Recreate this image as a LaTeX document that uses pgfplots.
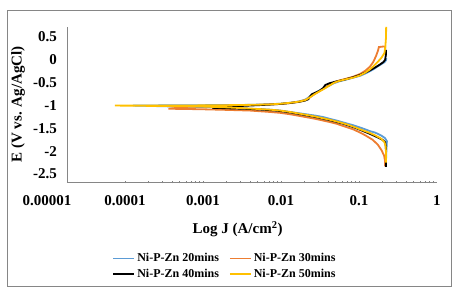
\documentclass[border=0pt]{standalone}
\usepackage{pgfplots}
\pgfplotsset{compat=1.18}
\usepackage{pgfplotstable}
\usepackage{fontspec}
\setmainfont{Liberation Serif}
\definecolor{cblue}{HTML}{5B9BD5}
\definecolor{corange}{HTML}{ED7D31}
\definecolor{cyellow}{HTML}{FFC000}
\definecolor{axgray}{HTML}{868686}
\pgfplotstableread{
J E
0.222 -2.20
0.225 -1.95
0.228 -1.78
0.215 -1.71
0.19 -1.65
0.16 -1.59
0.138 -1.56
0.12 -1.52
0.103 -1.48
0.084 -1.43
0.066 -1.38
0.052 -1.33
0.042 -1.29
0.0345 -1.25
0.0274 -1.22
0.019 -1.18
0.013 -1.14
0.0098 -1.11
0.0072 -1.09
0.004 -1.07
0.002 -1.05
0.0009 -1.03
0.0004 -1.02
0.000126 -1.00
0.0004 -0.995
0.0015 -0.99
0.004 -0.985
0.0072 -0.97
0.0098 -0.96
0.013 -0.94
0.017 -0.91
0.0205 -0.87
0.0235 -0.80
0.027 -0.73
0.031 -0.67
0.036 -0.62
0.042 -0.56
0.048 -0.51
0.056 -0.47
0.066 -0.44
0.084 -0.39
0.103 -0.35
0.12 -0.30
0.138 -0.25
0.155 -0.20
0.175 -0.14
0.195 -0.09
0.212 -0.05
0.222 -0.01
0.224 0.04
}\tblue
\pgfplotstableread{
J E
0.215 -2.33
0.215 -2.20
0.21 -2.10
0.195 -1.98
0.175 -1.86
0.15 -1.75
0.12 -1.65
0.103 -1.59
0.084 -1.52
0.066 -1.46
0.052 -1.40
0.042 -1.36
0.0274 -1.29
0.019 -1.24
0.013 -1.19
0.0098 -1.16
0.0072 -1.14
0.004 -1.11
0.002 -1.095
0.0009 -1.08
0.00036 -1.07
0.0006 -1.03
0.002 -1.00
0.005 -0.985
0.0098 -0.965
0.013 -0.945
0.017 -0.915
0.0205 -0.88
0.0235 -0.82
0.027 -0.75
0.031 -0.69
0.036 -0.62
0.042 -0.55
0.048 -0.49
0.056 -0.45
0.066 -0.42
0.084 -0.37
0.103 -0.31
0.12 -0.24
0.138 -0.15
0.152 -0.05
0.165 0.08
0.175 0.20
0.18 0.28
0.20 0.29
0.216 0.29
0.218 0.12
}\torange
\pgfplotstableread{
J E
0.222 -2.34
0.222 -2.10
0.221 -1.90
0.216 -1.80
0.20 -1.75
0.17 -1.69
0.138 -1.62
0.103 -1.53
0.084 -1.47
0.066 -1.41
0.052 -1.36
0.042 -1.32
0.0274 -1.25
0.019 -1.20
0.013 -1.15
0.0098 -1.12
0.0072 -1.10
0.004 -1.075
0.00134 -1.05
0.00134 -1.03
0.003 -1.01
0.0072 -0.98
0.0098 -0.965
0.013 -0.945
0.017 -0.92
0.0205 -0.89
0.0225 -0.86
0.0235 -0.80
0.025 -0.75
0.0275 -0.72
0.031 -0.68
0.0345 -0.62
0.037 -0.55
0.042 -0.51
0.052 -0.47
0.066 -0.43
0.084 -0.38
0.103 -0.33
0.12 -0.28
0.138 -0.23
0.16 -0.17
0.186 -0.10
0.205 -0.05
0.216 0.00
0.221 0.10
0.222 0.22
}\tblack
\pgfplotstableread{
J E
0.222 -2.25
0.222 -2.05
0.22 -1.90
0.212 -1.80
0.19 -1.72
0.16 -1.65
0.138 -1.60
0.103 -1.52
0.084 -1.46
0.066 -1.40
0.052 -1.35
0.042 -1.31
0.0274 -1.24
0.019 -1.19
0.013 -1.14
0.0098 -1.11
0.0072 -1.09
0.004 -1.065
0.002 -1.04
0.0009 -1.02
0.0003 -1.01
0.000074 -1.00
0.0003 -1.00
0.0015 -0.995
0.004 -0.985
0.0072 -0.975
0.0098 -0.96
0.013 -0.94
0.017 -0.915
0.0205 -0.88
0.0235 -0.82
0.027 -0.75
0.031 -0.69
0.036 -0.63
0.042 -0.56
0.048 -0.50
0.056 -0.46
0.066 -0.43
0.084 -0.39
0.103 -0.34
0.12 -0.28
0.138 -0.21
0.155 -0.13
0.175 -0.04
0.195 0.05
0.212 0.15
0.218 0.30
0.222 0.50
0.223 0.72
}\tyellow
\begin{document}
\begin{tikzpicture}
\path (-67pt,-115pt) rectangle (394pt,182pt);
\draw[axgray, line width=0.8pt] (-60pt,-104pt) rectangle (384pt,172pt);
\begin{axis}[
  at={(0,0)}, anchor=south west,
  scale only axis, width=370pt, height=155pt,
  xmode=log, xmin=1.803e-5, xmax=1,
  ymin=-2.673, ymax=0.719,
  axis x line=bottom, axis y line=left,
  axis line style={axgray, line width=0.8pt, -},
  major tick length=0pt,
  xtick={1e-4,1e-3,1e-2,1e-1,1},
  xticklabels={0.0001,0.001,0.01,0.1,1},
  ytick={-2.5,-2,-1.5,-1,-0.5,0,0.5},
  yticklabels={-2.5,-2,-1.5,-1,-0.5,0,0.5},
  /pgf/number format/assume math mode=true,
  tick label style={font=\fontsize{15}{18}\selectfont\bfseries, inner sep=0pt},
  xticklabel style={anchor=north, yshift=-13pt},
  yticklabel style={anchor=east, xshift=-10pt},
  xlabel={Log J (A/cm\textsuperscript{2})},
  ylabel={E (V vs. Ag/AgCl)},
  label style={font=\fontsize{15}{18}\selectfont\bfseries},
  xlabel style={at={(axis description cs:0.461,-0.303)}, anchor=center},
  ylabel style={at={(axis description cs:-0.1324,0.5)}, anchor=center, rotate=0},
  legend style={at={(axis description cs:0.427,-0.545)}, anchor=center, draw=none, fill=none,
    font=\fontsize{12}{14}\selectfont\bfseries, legend columns=2,
    /tikz/every even column/.append style={column sep=8pt}, row sep=2pt},
  legend image code/.code={\draw[#1] (0pt,0pt) -- (21pt,0pt);},
  clip=false,
  every axis plot/.append style={line width=1.8pt},
]
\addplot[cblue] table[x=J,y=E] {\tblue};
\addplot[corange] table[x=J,y=E] {\torange};
\addplot[black] table[x=J,y=E] {\tblack};
\addplot[cyellow] table[x=J,y=E] {\tyellow};
\legend{Ni-P-Zn 20mins, Ni-P-Zn 30mins, Ni-P-Zn 40mins, Ni-P-Zn 50mins}
\node[font=\fontsize{15}{18}\selectfont\bfseries, inner sep=0pt, anchor=north] at (axis cs:1e-5,-2.673) [yshift=-13pt] {0.00001};
\end{axis}
\end{tikzpicture}
\end{document}
